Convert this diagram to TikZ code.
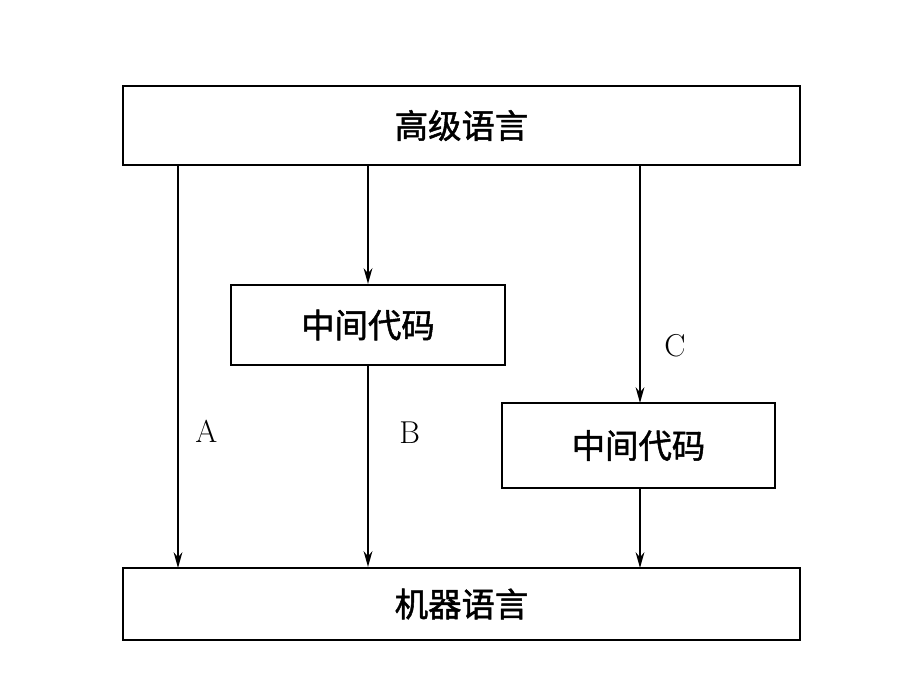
\documentclass[tikz,border=0pt]{standalone}
\usepackage{fontspec}
\newfontfamily\cjk{Noto Sans CJK SC}[FakeBold=1.5]
\usetikzlibrary{arrows.meta,positioning}
\tikzset{
  box/.style={draw,line width=1.2pt,inner sep=0pt,font=\cjk\fontsize{19}{22}\selectfont},
  flow/.style={-{Stealth[length=9pt,width=5pt]},line width=1.1pt},
  tag/.style={font=\fontsize{18}{20}\selectfont}
}
\begin{document}
\begin{tikzpicture}[x=0.02cm,y=-0.02cm]
\useasboundingbox (0,0) rectangle (910,688);
\node[box,minimum width=677*0.02cm,minimum height=79*0.02cm] (hl) at (461.5,125.5) {高级语言};
\node[box,minimum width=677*0.02cm,minimum height=72*0.02cm] (ml) at (461.5,604) {机器语言};
\node[box,minimum width=274*0.02cm,minimum height=80*0.02cm] (mid1) at (368,325) {中间代码};
\node[box,minimum width=273*0.02cm,minimum height=85*0.02cm] (mid2) at (638.5,445.5) {中间代码};
\coordinate (a1) at (178,165);
\coordinate (a2) at (178,568);
\draw[flow] (a1) -- (a2) node[tag,pos=0.66,right=6pt] {A};
\draw[flow] (hl.south -| mid1.north) -- (mid1.north);
\draw[flow] (mid1.south) -- (mid1.south |- ml.north) node[tag,pos=0.33,right=14pt] {B};
\coordinate (c1) at (640,165);
\coordinate (c2) at (640,403);
\coordinate (c3) at (640,488);
\coordinate (c4) at (640,568);
\draw[flow] (c1) -- (c2) node[tag,pos=0.76,right=10pt] {C};
\draw[flow] (c3) -- (c4);
\end{tikzpicture}
\end{document}
